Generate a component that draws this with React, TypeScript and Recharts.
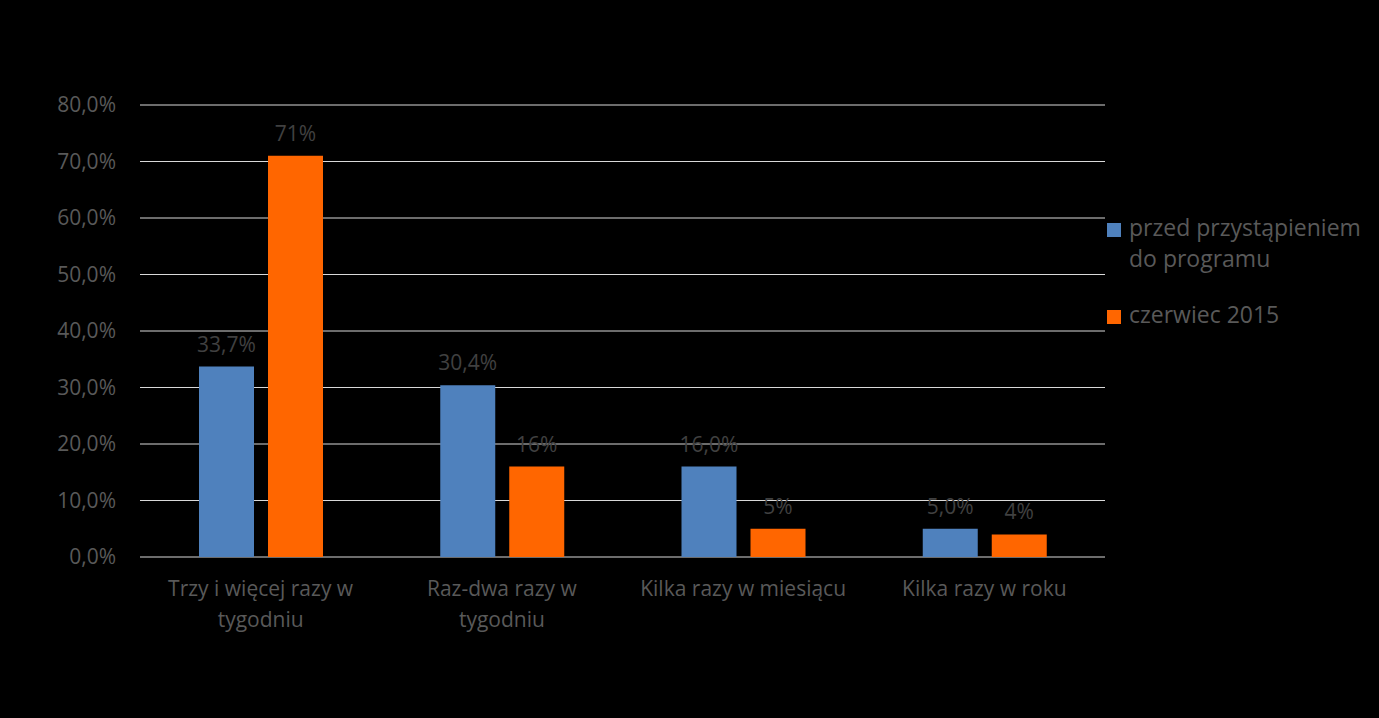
import React from "react";
import { BarChart, Bar, XAxis, YAxis, CartesianGrid, LabelList, Legend } from "recharts";

const categories = [
  "Trzy i więcej razy w\ntygodniu",
  "Raz-dwa razy w\ntygodniu",
  "Kilka razy w miesiącu",
  "Kilka razy w roku",
];
const before = [33.7, 30.4, 16.0, 5.0];
const june2015 = [71, 16, 5, 4];
const yTicks = [0, 10, 20, 30, 40, 50, 60, 70, 80];

const seriesNames = ["przed przystąpieniem do programu", "czerwiec 2015"];
const data = categories.map((c, i) => ({ category: c, before: before[i], june: june2015[i] }));

const FONT = "'Open Sans', sans-serif";
const TICK_COLOR = "#595959";
const LABEL_COLOR = "#404040";

const pct1 = (v: number) => v.toFixed(1).replace(".", ",") + "%";
const pct0 = (v: number) => v.toFixed(0) + "%";

function CategoryTick(props: any) {
  const { x, y, payload } = props;
  const lines = String(payload.value).split("\n");
  return (
    <text x={x} y={y} textAnchor="middle" fill={TICK_COLOR} fontSize={21} fontFamily={FONT}>
      {lines.map((l, i) => (
        <tspan key={i} x={x} dy={i === 0 ? 39 : 31}>
          {l}
        </tspan>
      ))}
    </text>
  );
}

function LegendBox(props: any) {
  const items = [...(props.payload || [])].sort(
    (a: any, b: any) => seriesNames.indexOf(a.value) - seriesNames.indexOf(b.value)
  );
  return (
    <div style={{ fontFamily: FONT, fontSize: 23, lineHeight: "31px", color: TICK_COLOR }}>
      {items.map((it: any, i: number) => (
        <div key={i} style={{ display: "flex", alignItems: "flex-start", marginTop: i === 0 ? 0 : 25 }}>
          <span style={{ width: 14, height: 14, background: it.color, marginTop: 11, marginRight: 8, flex: "none" }} />
          <span style={{ width: 250 }}>{it.value}</span>
        </div>
      ))}
    </div>
  );
}

export default function App() {
  return (
    <div style={{ position: "absolute", left: 0, top: 0, width: 1379, height: 718, background: "#000" }}>
      <BarChart
        width={1379}
        height={718}
        data={data}
        margin={{ top: 105, right: 0, bottom: 0, left: 0 }}
        barGap={14}
        barSize={55}
      >
        <CartesianGrid vertical={false} stroke="#D9D9D9" strokeWidth={1} />
        <XAxis
          dataKey="category"
          height={161}
          axisLine={false}
          tickLine={false}
          tickSize={0}
          tickMargin={0}
          interval={0}
          tick={<CategoryTick />}
        />
        <YAxis
          width={140}
          domain={[0, 80]}
          ticks={yTicks}
          axisLine={false}
          tickLine={false}
          tickSize={0}
          tickMargin={24}
          tickFormatter={pct1}
          tick={{ fill: TICK_COLOR, fontSize: 21, fontFamily: FONT }}
        />
        <Legend
          layout="vertical"
          align="right"
          verticalAlign="middle"
          content={<LegendBox />}
          wrapperStyle={{ left: 1107, top: 212, width: 274, right: "auto" }}
        />
        <Bar dataKey="before" name={seriesNames[0]} fill="#4F81BD" isAnimationActive={false}>
          <LabelList
            dataKey="before"
            position="top"
            offset={15}
            formatter={(v: any) => pct1(Number(v))}
            fill={LABEL_COLOR}
            fontSize={21}
            fontFamily={FONT}
          />
        </Bar>
        <Bar dataKey="june" name={seriesNames[1]} fill="#FF6600" isAnimationActive={false}>
          <LabelList
            dataKey="june"
            position="top"
            offset={15}
            formatter={(v: any) => pct0(Number(v))}
            fill={LABEL_COLOR}
            fontSize={21}
            fontFamily={FONT}
          />
        </Bar>
      </BarChart>
    </div>
  );
}
